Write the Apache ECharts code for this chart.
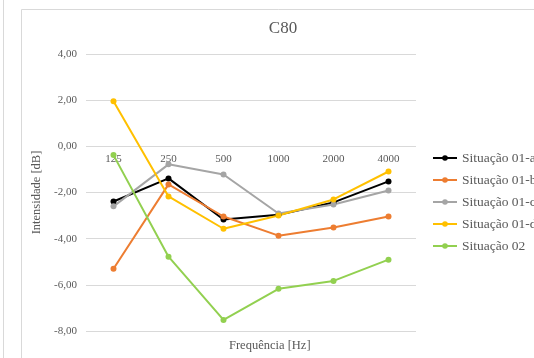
<!DOCTYPE html>
<html>
<head>
<meta charset="utf-8">
<script src="https://cdn.jsdelivr.net/npm/echarts@6/dist/echarts.min.js"></script>
<style>
  html, body { margin: 0; padding: 0; background: #fff; }
  #chart { width: 534px; height: 358px; }
</style>
</head>
<body>
<div id="chart"></div>
<script>
// Frequency bands (Hz) and C80 values (dB) per situation
var frequencies = ['125', '250', '500', '1000', '2000', '4000'];
var situacao01a = [-2.39, -1.39, -3.17, -2.96, -2.43, -1.52];
var situacao01b = [-5.30, -1.65, -3.04, -3.87, -3.52, -3.04];
var situacao01c = [-2.60, -0.78, -1.22, -2.91, -2.52, -1.91];
var situacao01d = [1.95, -2.17, -3.57, -3.00, -2.30, -1.09];
var situacao02 = [-0.38, -4.78, -7.52, -6.17, -5.83, -4.91];
var yTicks = { min: -8, max: 4, step: 2 };

var font = '"Liberation Serif", "Times New Roman", serif';
var textGray = '#595959';
var gridColor = '#d9d9d9';

// plot area
var plot = { left: 86, right: 118, top: 54, bottom: 27 };
var plotHeight = 358 - plot.top - plot.bottom;
// the frequency labels sit on the zero line, so a second, label-only grid ends there
var zeroOffset = plotHeight * (yTicks.max - 0) / (yTicks.max - yTicks.min);

function lineSeries(name, data, color) {
  return {
    name: name,
    type: 'line',
    data: data,
    xAxisIndex: 0,
    yAxisIndex: 0,
    symbol: 'circle',
    symbolSize: 6,
    lineStyle: { width: 2, color: color },
    itemStyle: { color: color },
    emphasis: { disabled: true }
  };
}

var chart = echarts.init(document.getElementById('chart'), null, { renderer: 'canvas' });
chart.setOption({
  animation: false,
  backgroundColor: '#fff',
  title: {
    text: 'C80',
    left: 278,
    top: 15,
    textAlign: 'center',
    textStyle: { fontFamily: font, fontSize: 17, fontWeight: 'normal', color: textGray }
  },
  graphic: [
    { type: 'line', shape: { x1: 3.5, y1: 0, x2: 3.5, y2: 358 }, style: { stroke: gridColor, lineWidth: 1 } },
    { type: 'rect', shape: { x: 21.5, y: 9.5, width: 600, height: 400 }, style: { fill: 'none', stroke: gridColor, lineWidth: 1 } },
    { type: 'text', left: 229, top: 339, style: { text: 'Frequência [Hz]', font: '12.5px ' + font, fill: textGray } }
  ],
  legend: {
    orient: 'vertical',
    left: 427,
    top: 146,
    itemGap: 8,
    itemWidth: 24,
    itemHeight: 7,
    textStyle: { fontFamily: font, fontSize: 13.5, color: textGray },
    data: ['Situação 01-a', 'Situação 01-b', 'Situação 01-c', 'Situação 01-d', 'Situação 02']
  },
  grid: [
    { left: plot.left, right: plot.right, top: plot.top, bottom: plot.bottom },
    { left: plot.left, right: plot.right, top: plot.top, height: zeroOffset }
  ],
  xAxis: [
    {
      type: 'category',
      gridIndex: 0,
      data: frequencies,
      boundaryGap: true,
      axisLine: { show: false },
      axisTick: { show: false },
      axisLabel: { show: false }
    },
    {
      type: 'category',
      gridIndex: 1,
      data: frequencies,
      boundaryGap: true,
      axisLine: { show: false },
      axisTick: { show: false },
      axisLabel: { fontFamily: font, fontSize: 11, color: textGray, margin: 7 }
    }
  ],
  yAxis: [
    {
      type: 'value',
      gridIndex: 0,
      min: yTicks.min,
      max: yTicks.max,
      interval: yTicks.step,
      name: 'Intensidade [dB]',
      nameLocation: 'middle',
      nameGap: 36,
      nameTextStyle: { fontFamily: font, fontSize: 12.5, color: textGray },
      axisLine: { show: false },
      axisTick: { show: false },
      splitLine: { lineStyle: { color: gridColor, width: 1 } },
      axisLabel: {
        fontFamily: font, fontSize: 11, color: textGray, margin: 9,
        formatter: function (v) { return v.toFixed(2).replace('.', ','); }
      }
    },
    {
      type: 'value',
      gridIndex: 1,
      min: 0,
      max: yTicks.max,
      show: false,
      splitLine: { show: false }
    }
  ],
  series: [
    lineSeries('Situação 01-a', situacao01a, '#000000'),
    lineSeries('Situação 01-b', situacao01b, '#ED7D31'),
    lineSeries('Situação 01-c', situacao01c, '#A5A5A5'),
    lineSeries('Situação 01-d', situacao01d, '#FFC000'),
    lineSeries('Situação 02', situacao02, '#92D050')
  ]
});
</script>
</body>
</html>
